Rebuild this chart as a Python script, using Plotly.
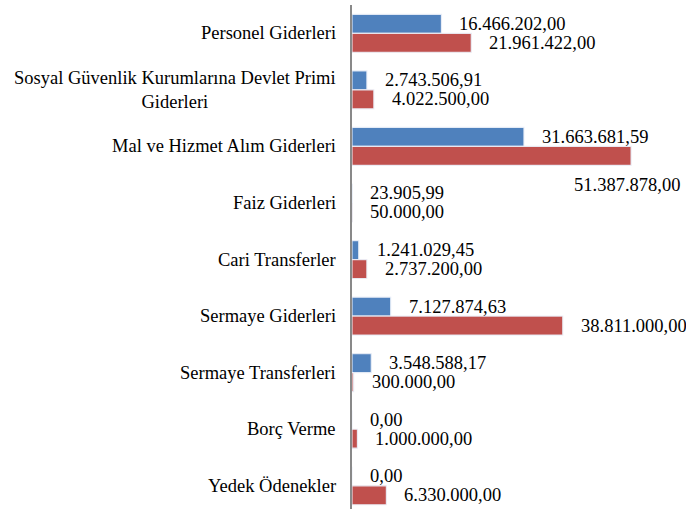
import plotly.graph_objects as go

categories = [
    "Personel Giderleri",
    "Sosyal Güvenlik Kurumlarına Devlet Primi<br>Giderleri",
    "Mal ve Hizmet Alım Giderleri",
    "Faiz Giderleri",
    "Cari Transferler",
    "Sermaye Giderleri",
    "Sermaye Transferleri",
    "Borç Verme",
    "Yedek Ödenekler",
]
series_blue = [16466202.00, 2743506.91, 31663681.59, 23905.99, 1241029.45,
               7127874.63, 3548588.17, 0.00, 0.00]
series_red = [21961422.00, 4022500.00, 51387878.00, 50000.00, 2737200.00,
              38811000.00, 300000.00, 1000000.00, 6330000.00]

BLUE = "#4F81BD"
RED = "#C0504D"
FONT = "Liberation Serif, Times New Roman, serif"
FS = 18.5


def tr_fmt(v):
    s = f"{v:,.2f}"
    return s.replace(",", "#").replace(".", ",").replace("#", ".")


fig = go.Figure()
for name, vals, col in [("blue", series_blue, BLUE), ("red", series_red, RED)]:
    fig.add_trace(go.Bar(
        y=categories, x=vals, orientation="h", name=name,
        marker=dict(color=col, line=dict(color="rgba(235,240,248,0.9)", width=1.2)),
        hoverinfo="skip",
    ))

annotations = []
# category labels
for c in categories:
    annotations.append(dict(
        x=0, xref="paper", y=c, yref="y", text=c, showarrow=False,
        xanchor="right", yanchor="middle", xshift=-14, align="center",
        font=dict(family=FONT, size=FS, color="#000000"),
    ))
# data labels
for i, c in enumerate(categories):
    for vals, ys in [(series_blue, 9.5), (series_red, -9.5)]:
        xs = 16
        yy = ys
        if vals is series_red and vals[i] == max(series_red):
            xs = -59
            yy = -39
        annotations.append(dict(
            x=vals[i], xref="x", y=c, yref="y", text=tr_fmt(vals[i]),
            showarrow=False, xanchor="left", yanchor="middle",
            xshift=xs, yshift=yy,
            font=dict(family=FONT, size=FS, color="#000000"),
        ))

fig.update_layout(
    width=686, height=509,
    margin=dict(l=352, r=0, t=5, b=0),
    paper_bgcolor="white", plot_bgcolor="white",
    barmode="group", bargap=0.33, bargroupgap=0.0,
    showlegend=False,
    annotations=annotations,
    xaxis=dict(range=[0, 61.5e6], showticklabels=False, showgrid=False,
               zeroline=False, showline=False, ticks=""),
    yaxis=dict(range=[8.41, -0.5], showticklabels=False, showgrid=False,
               zeroline=False, showline=True, linecolor="#898989",
               linewidth=2, ticks=""),
)

fig.write_html(
    "out.html",
    config={"displayModeBar": False},
    post_script="document.body.style.margin='0px';document.body.style.overflow='hidden';",
)
